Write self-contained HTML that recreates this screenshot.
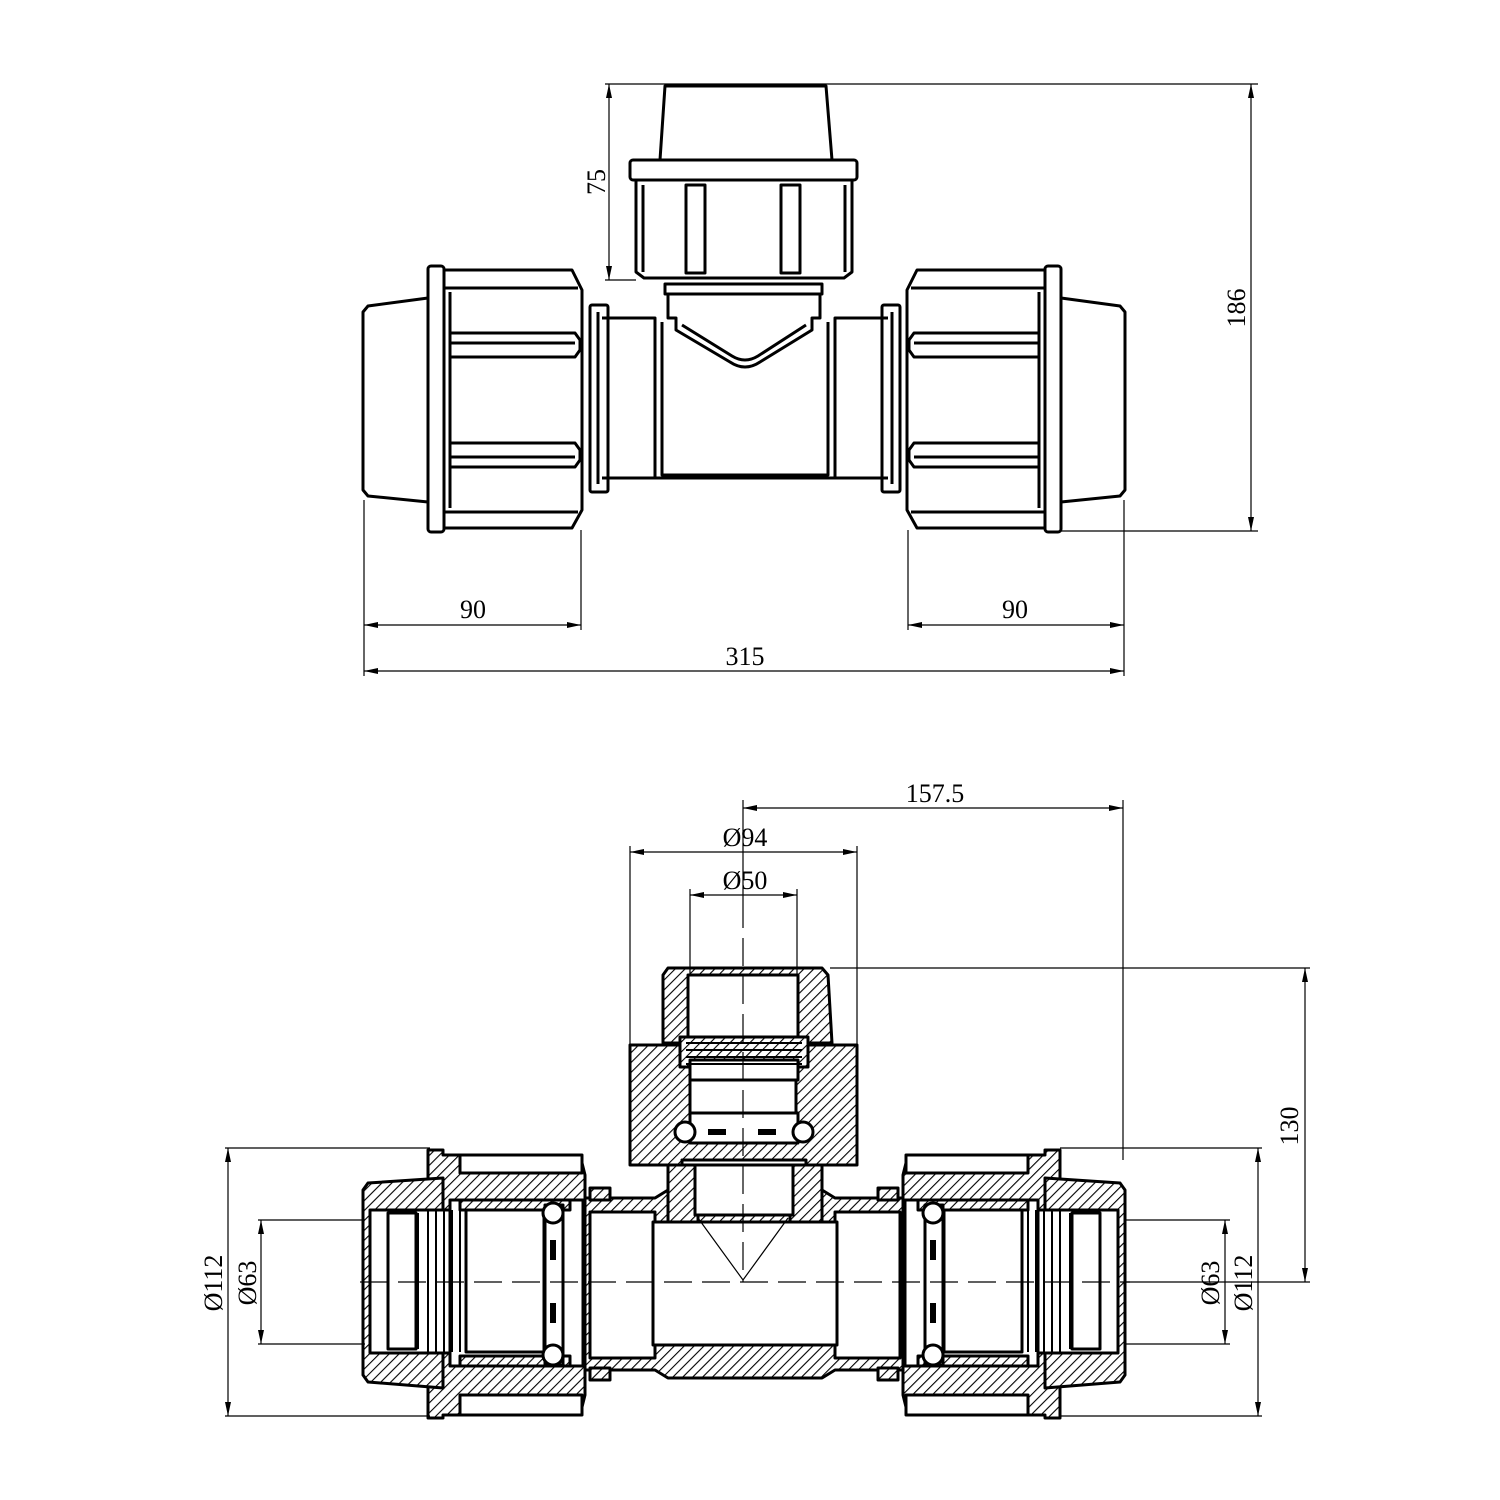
<!DOCTYPE html>
<html><head><meta charset="utf-8"><style>
html,body{margin:0;padding:0;background:#fff;overflow:hidden;}
svg{display:block;}
text{font-family:"Liberation Serif",serif;font-size:26px;fill:#000;}
</style></head><body>
<svg width="1500" height="1500" viewBox="0 0 1500 1500" xmlns="http://www.w3.org/2000/svg">
<defs>
<pattern id="h" width="7" height="7" patternUnits="userSpaceOnUse" patternTransform="rotate(45)">
<rect width="7" height="7" fill="#fff"/><line x1="0" y1="0" x2="0" y2="7" stroke="#000" stroke-width="2.2"/>
</pattern>
<marker id="a" markerWidth="14" markerHeight="8" refX="14" refY="4" orient="auto-start-reverse" markerUnits="userSpaceOnUse">
<path d="M0,1 L14,4 L0,7 Z" fill="#000"/></marker>
</defs>

<!-- ================= TOP VIEW ================= -->
<g fill="none" stroke="#000" stroke-width="3" stroke-linejoin="round">
<path d="M660,160 L665,86 L826,86 L832,160"/>
<rect x="630" y="160" width="227" height="20" rx="3"/>
<path d="M636,180 L636,272 L644,278 L844,278 L852,272 L852,180"/>
<path d="M643,185 L643,272 M845,185 L845,272"/>
<rect x="686" y="185" width="19" height="88"/>
<rect x="781" y="185" width="19" height="88"/>
<rect x="665" y="284" width="157" height="10"/>
<path d="M668,294 L668,318 L676,318 L676,330 L730,362 Q745,372 760,362 L812,330 L812,318 L820,318 L820,294"/>
<path d="M682,325 L732,356 Q745,364 758,356 L806,325"/>

<path d="M428,298 L368,306 L363,312 L363,490 L368,496 L428,502"/>
<rect x="428" y="266" width="16" height="266" rx="3"/>
<path d="M444,270 L572,270 L582,290 L582,510 L572,528 L444,528"/>
<path d="M444,288 L578,288 M444,512 L578,512"/>
<path d="M450,292 L450,508"/>
<path d="M450,333 L575,333 L580,340 L580,350 L575,357 L450,357"/>
<path d="M450,343 L575,343"/>
<path d="M450,443 L575,443 L580,450 L580,460 L575,467 L450,467"/>
<path d="M450,457 L575,457"/>
<rect x="590" y="305" width="18" height="187" rx="2"/>
<path d="M598,312 L598,484"/>
<path d="M602,318 L655,318 L655,478 L602,478"/>
<path d="M655,325 L655,478 L835,478 L835,325"/>
<path d="M662,322 L662,475 L828,475 L828,322"/>
<path d="M888,318 L835,318 L835,478 L888,478"/>
<rect x="882" y="305" width="18" height="187" rx="2"/>
<path d="M892,312 L892,484"/>
<rect x="1045" y="266" width="16" height="266" rx="3"/>
<path d="M1045,270 L917,270 L907,290 L907,510 L917,528 L1045,528"/>
<path d="M1045,288 L911,288 M1045,512 L911,512"/>
<path d="M1039,292 L1039,508"/>
<path d="M1039,333 L914,333 L909,340 L909,350 L914,357 L1039,357"/>
<path d="M1039,343 L914,343"/>
<path d="M1039,443 L914,443 L909,450 L909,460 L914,467 L1039,467"/>
<path d="M1039,457 L914,457"/>
<path d="M1061,298 L1120,306 L1125,312 L1125,490 L1120,496 L1061,502"/>
</g>

<g stroke="#000" stroke-width="1.2" fill="none">
<line x1="665" y1="84" x2="1258" y2="84"/>
<line x1="1060" y1="531" x2="1258" y2="531"/>
<line x1="1251" y1="84" x2="1251" y2="531" marker-start="url(#a)" marker-end="url(#a)"/>
<line x1="605" y1="84" x2="665" y2="84"/>
<line x1="605" y1="280" x2="636" y2="280"/>
<line x1="609" y1="84" x2="609" y2="280" marker-start="url(#a)" marker-end="url(#a)"/>
<line x1="364" y1="500" x2="364" y2="676"/>
<line x1="581" y1="530" x2="581" y2="630"/>
<line x1="908" y1="530" x2="908" y2="630"/>
<line x1="1124" y1="500" x2="1124" y2="676"/>
<line x1="364" y1="625" x2="581" y2="625" marker-start="url(#a)" marker-end="url(#a)"/>
<line x1="908" y1="625" x2="1124" y2="625" marker-start="url(#a)" marker-end="url(#a)"/>
<line x1="364" y1="671" x2="1124" y2="671" marker-start="url(#a)" marker-end="url(#a)"/>
</g>
<text x="473" y="618" text-anchor="middle">90</text>
<text x="1015" y="618" text-anchor="middle">90</text>
<text x="745" y="665" text-anchor="middle">315</text>
<text transform="translate(605,182) rotate(-90)" text-anchor="middle">75</text>
<text transform="translate(1245,308) rotate(-90)" text-anchor="middle">186</text>

<!-- ================= SECTION VIEW ================= -->
<g stroke="#000" stroke-width="3" stroke-linejoin="round">
<path d="M663,975 L668,968 L822,968 L828,975 L832,1043 L663,1043 Z" fill="url(#h)"/>
<rect x="688" y="975" width="110" height="62" fill="#fff"/>
<path d="M630,1045 L857,1045 L857,1165 L630,1165 Z" fill="url(#h)"/>
<rect x="680" y="1037" width="128" height="30" fill="url(#h)"/>
<rect x="690" y="1060" width="108" height="20" fill="#fff"/>
<path d="M686,1043 L802,1043 M686,1050 L802,1050 M686,1057 L802,1057 M686,1064 L802,1064" stroke-width="2" fill="none"/>
<rect x="690" y="1080" width="106" height="33" fill="#fff"/>
<rect x="690" y="1113" width="108" height="30" fill="#fff"/>
<rect x="682" y="1160" width="124" height="5" fill="#fff"/>
<circle cx="685" cy="1132" r="10" fill="#fff"/>
<circle cx="803" cy="1132" r="10" fill="#fff"/>
<rect x="708" y="1129" width="18" height="6" fill="#000" stroke="none"/>
<rect x="758" y="1129" width="18" height="6" fill="#000" stroke="none"/>
<path d="M668,1165 L822,1165 L822,1230 L668,1230 Z" fill="url(#h)"/>
<rect x="695" y="1165" width="98" height="50" fill="#fff"/>

<path d="M583,1198 L655,1198 L668,1190 L668,1230 L698,1230 L698,1215 L790,1215 L790,1230 L822,1230 L822,1190 L835,1198 L905,1198 L905,1370 L835,1370 L822,1378 L668,1378 L655,1370 L583,1370 Z" fill="url(#h)"/>
<rect x="590" y="1212" width="65" height="146" fill="#fff"/>
<rect x="835" y="1212" width="65" height="146" fill="#fff"/>
<rect x="653" y="1222" width="184" height="123" fill="#fff"/>
<rect x="590" y="1188" width="20" height="12" fill="url(#h)"/>
<rect x="590" y="1368" width="20" height="12" fill="url(#h)"/>
<rect x="878" y="1188" width="20" height="12" fill="url(#h)"/>
<rect x="878" y="1368" width="20" height="12" fill="url(#h)"/>

<path d="M428,1150 L443,1150 L443,1155 L580,1155 L585,1175 L585,1395 L580,1415 L443,1415 L443,1418 L428,1418 Z" fill="url(#h)"/>
<rect x="460" y="1155" width="122" height="18" fill="#fff"/>
<rect x="460" y="1395" width="122" height="20" fill="#fff"/>
<path d="M443,1178 L368,1183 L363,1190 L363,1375 L368,1382 L443,1388 Z" fill="url(#h)"/>
<rect x="370" y="1210" width="82" height="143" fill="#fff"/>
<rect x="450" y="1200" width="133" height="166" fill="#fff"/>
<rect x="460" y="1200" width="110" height="10" fill="url(#h)"/>
<rect x="460" y="1356" width="110" height="10" fill="url(#h)"/>
<rect x="388" y="1213" width="28" height="136" fill="#fff"/>
<path d="M418,1213 L418,1349 M428,1210 L428,1352 M436,1210 L436,1352 M444,1210 L444,1352 M452,1210 L452,1352 M460,1210 L460,1352" stroke-width="2" fill="none"/>
<rect x="466" y="1210" width="78" height="142" fill="#fff"/>
<rect x="545" y="1205" width="18" height="160" fill="#fff"/>
<circle cx="553" cy="1213" r="10" fill="#fff"/>
<circle cx="553" cy="1355" r="10" fill="#fff"/>
<rect x="550" y="1240" width="6" height="20" fill="#000" stroke="none"/>
<rect x="550" y="1303" width="6" height="20" fill="#000" stroke="none"/>

<path d="M1060,1150 L1045,1150 L1045,1155 L908,1155 L903,1175 L903,1395 L908,1415 L1045,1415 L1045,1418 L1060,1418 Z" fill="url(#h)"/>
<rect x="906" y="1155" width="122" height="18" fill="#fff"/>
<rect x="906" y="1395" width="122" height="20" fill="#fff"/>
<path d="M1045,1178 L1120,1183 L1125,1190 L1125,1375 L1120,1382 L1045,1388 Z" fill="url(#h)"/>
<rect x="1036" y="1210" width="82" height="143" fill="#fff"/>
<rect x="905" y="1200" width="133" height="166" fill="#fff"/>
<rect x="918" y="1200" width="110" height="10" fill="url(#h)"/>
<rect x="918" y="1356" width="110" height="10" fill="url(#h)"/>
<rect x="1072" y="1213" width="28" height="136" fill="#fff"/>
<path d="M1070,1213 L1070,1349 M1060,1210 L1060,1352 M1052,1210 L1052,1352 M1044,1210 L1044,1352 M1036,1210 L1036,1352 M1028,1210 L1028,1352" stroke-width="2" fill="none"/>
<rect x="944" y="1210" width="78" height="142" fill="#fff"/>
<rect x="925" y="1205" width="18" height="160" fill="#fff"/>
<circle cx="933" cy="1213" r="10" fill="#fff"/>
<circle cx="933" cy="1355" r="10" fill="#fff"/>
<rect x="930" y="1240" width="6" height="20" fill="#000" stroke="none"/>
<rect x="930" y="1303" width="6" height="20" fill="#000" stroke="none"/>
</g>

<g stroke="#000" stroke-width="1.2" fill="none">
<path d="M698,1218 L743,1280 L788,1218"/>
<line x1="360" y1="1282" x2="1130" y2="1282" stroke-dasharray="28,10"/>
<line x1="743" y1="900" x2="743" y2="1282" stroke-dasharray="28,10"/>
</g>

<g stroke="#000" stroke-width="1.2" fill="none">
<line x1="743" y1="800" x2="743" y2="900"/>
<line x1="1123" y1="800" x2="1123" y2="1160"/>
<line x1="743" y1="808" x2="1123" y2="808" marker-start="url(#a)" marker-end="url(#a)"/>
<line x1="630" y1="846" x2="630" y2="1045"/>
<line x1="857" y1="846" x2="857" y2="1045"/>
<line x1="630" y1="852" x2="857" y2="852" marker-start="url(#a)" marker-end="url(#a)"/>
<line x1="690" y1="889" x2="690" y2="975"/>
<line x1="797" y1="889" x2="797" y2="975"/>
<line x1="690" y1="895" x2="797" y2="895" marker-start="url(#a)" marker-end="url(#a)"/>
<line x1="830" y1="968" x2="1310" y2="968"/>
<line x1="1125" y1="1282" x2="1310" y2="1282"/>
<line x1="1305" y1="968" x2="1305" y2="1282" marker-start="url(#a)" marker-end="url(#a)"/>
<line x1="225" y1="1148" x2="430" y2="1148"/>
<line x1="225" y1="1416" x2="430" y2="1416"/>
<line x1="228" y1="1148" x2="228" y2="1416" marker-start="url(#a)" marker-end="url(#a)"/>
<line x1="258" y1="1220" x2="365" y2="1220"/>
<line x1="258" y1="1344" x2="365" y2="1344"/>
<line x1="261" y1="1220" x2="261" y2="1344" marker-start="url(#a)" marker-end="url(#a)"/>
<line x1="1060" y1="1148" x2="1262" y2="1148"/>
<line x1="1060" y1="1416" x2="1262" y2="1416"/>
<line x1="1258" y1="1148" x2="1258" y2="1416" marker-start="url(#a)" marker-end="url(#a)"/>
<line x1="1125" y1="1220" x2="1230" y2="1220"/>
<line x1="1125" y1="1344" x2="1230" y2="1344"/>
<line x1="1225" y1="1220" x2="1225" y2="1344" marker-start="url(#a)" marker-end="url(#a)"/>
</g>
<text x="935" y="802" text-anchor="middle">157.5</text>
<text x="745" y="846" text-anchor="middle">Ø94</text>
<text x="745" y="889" text-anchor="middle">Ø50</text>
<text transform="translate(1298,1126) rotate(-90)" text-anchor="middle">130</text>
<text transform="translate(222,1283) rotate(-90)" text-anchor="middle">Ø112</text>
<text transform="translate(256,1283) rotate(-90)" text-anchor="middle">Ø63</text>
<text transform="translate(1219,1283) rotate(-90)" text-anchor="middle">Ø63</text>
<text transform="translate(1252,1283) rotate(-90)" text-anchor="middle">Ø112</text>
</svg>
</body></html>
